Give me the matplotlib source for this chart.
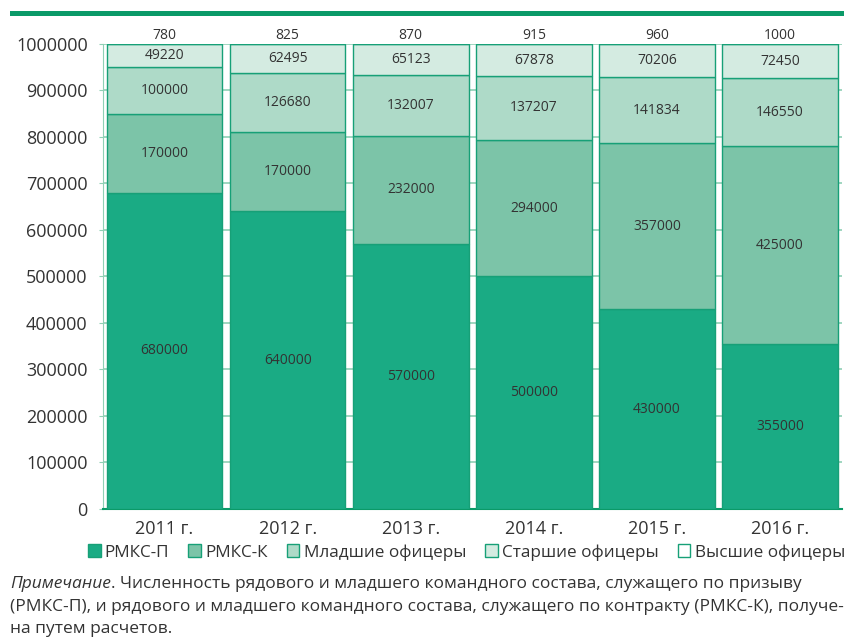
import matplotlib.pyplot as plt
import numpy as np

years = ["2011 г.", "2012 г.", "2013 г.", "2014 г.", "2015 г.", "2016 г."]
series_names = ["РМКС-П", "РМКС-К", "Младшие офицеры", "Старшие офицеры", "Высшие офицеры"]
rmks_p = [680000, 640000, 570000, 500000, 430000, 355000]
rmks_k = [170000, 170000, 232000, 294000, 357000, 425000]
junior = [100000, 126680, 132007, 137207, 141834, 146550]
senior = [49220, 62495, 65123, 67878, 70206, 72450]
top = [780, 825, 870, 915, 960, 1000]

colors = ["#1aab84", "#7cc4a8", "#aedac8", "#d4ebe1", "#ffffff"]
edge = "#17a077"
text_col = "#333333"

plt.rcParams['font.family'] = ['Open Sans', 'DejaVu Sans']

fig = plt.figure(figsize=(8.45, 6.43), dpi=100)
ax = fig.add_axes([0.1219, 0.2084, 0.874, 0.7232])

# green strip on top
fig.add_artist(plt.Rectangle((10 / 845, 1 - 16 / 643), 835 / 845, 5 / 643,
                             transform=fig.transFigure, color="#0a9a68", lw=0))

x = np.arange(len(years))
data = [rmks_p, rmks_k, junior, senior, top]
bottom = np.zeros(len(years))
for vals, col, name in zip(data, colors, series_names):
    bars = ax.bar(x, vals, 0.94, bottom=bottom, color=col, edgecolor=edge,
                  linewidth=1, label=name, zorder=3)
    if name != "Высшие офицеры":
        for xi, b, v in zip(x, bottom, vals):
            ax.text(xi, b + v / 2, str(v), ha="center", va="center",
                    fontsize=10, color=text_col, zorder=4)
    else:
        for xi, b, v in zip(x, bottom, vals):
            ax.text(xi, b + v + 2000, str(v), ha="center", va="bottom",
                    fontsize=10, color=text_col, zorder=4, clip_on=False)
    bottom = bottom + np.array(vals)

ax.set_xlim(-0.5, 5.5)
ax.set_ylim(0, 1000000)
ax.set_yticks(np.arange(0, 1000001, 100000))
ax.set_yticklabels([str(v) for v in range(0, 1000001, 100000)])
ax.set_xticks(x)
ax.set_xticklabels(years)
ax.grid(axis="y", color="#8fd0b5", linewidth=1.2, zorder=0)
ax.tick_params(axis="y", length=3, color="#8fd0b5", labelsize=13, labelcolor=text_col, pad=8)
ax.tick_params(axis="x", length=0, labelsize=13, labelcolor=text_col, pad=8)
for s in ["top", "right"]:
    ax.spines[s].set_visible(False)
ax.spines["left"].set_color("#8fd0b5")
ax.spines["bottom"].set_color("#0a9a68")
ax.spines["bottom"].set_linewidth(1.5)

fig.legend(loc="center", bbox_to_anchor=(0.552, 0.141), ncol=5, frameon=False,
           fontsize=12.3, handlelength=0.75, handleheight=0.75, handletextpad=0.25,
           columnspacing=1.1, labelcolor=text_col, borderpad=0)

t1 = fig.text(10 / 845, 1 - 588 / 643, "Примечание", fontsize=12.5, style="italic",
              color=text_col, va="baseline")
fig.canvas.draw()
ax.annotate(". Численность рядового и младшего командного состава, служащего по призыву",
            xy=(1, 0), xycoords=t1, va="bottom", ha="left", fontsize=12.5, color=text_col)
fig.text(10 / 845, 1 - 611 / 643,
         "(РМКС-П), и рядового и младшего командного состава, служащего по контракту (РМКС-К), получе-",
         fontsize=12.5, color=text_col, va="baseline")
fig.text(10 / 845, 1 - 633 / 643, "на путем расчетов.", fontsize=12.5, color=text_col, va="baseline")

fig.savefig("out.png", dpi=100)
